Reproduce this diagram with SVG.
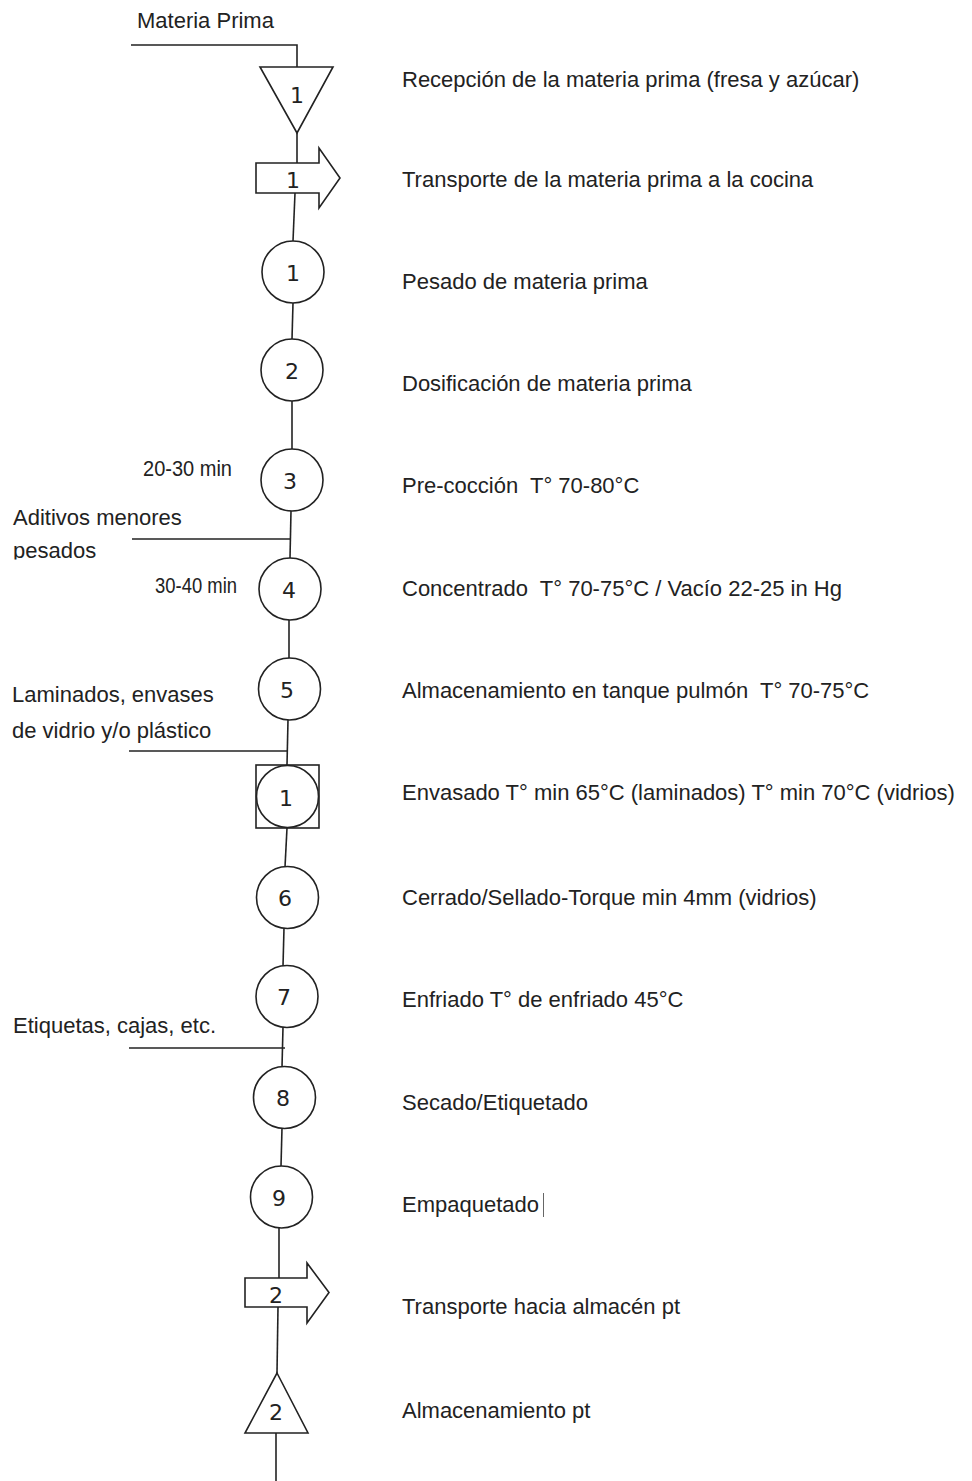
<svg xmlns="http://www.w3.org/2000/svg" width="972" height="1481" viewBox="0 0 972 1481">
<style>
.s{fill:#fff;stroke:#222;stroke-width:1.6}
.c{fill:none;stroke:#222;stroke-width:1.6}
.n{font-family:"DejaVu Sans","Liberation Sans",sans-serif;font-size:22px;fill:#222;text-anchor:middle}
.t{font-family:"Liberation Sans",Arial,sans-serif;font-size:22px;fill:#222}
.l{font-family:"Liberation Sans",Arial,sans-serif;font-size:22px;fill:#222}
</style>
<defs>
<clipPath id="clipPes"><rect x="0" y="530" width="200" height="29.5"/></clipPath>
</defs>
<rect width="972" height="1481" fill="#fff"/>
<g id="connectors">
<path class="c" d="M131,45 H297 V67"/>
<path class="c" d="M297,133 V163"/>
<path class="c" d="M295,193 L293,241"/>
<path class="c" d="M293,303 L292,339"/>
<path class="c" d="M292,401 L292,449"/>
<path class="c" d="M291,511 L290,558"/>
<path class="c" d="M132,539 H290"/>
<path class="c" d="M289,620 L289,658"/>
<path class="c" d="M288,720 L287,765"/>
<path class="c" d="M129,751 H288"/>
<path class="c" d="M287,828 L285,867"/>
<path class="c" d="M284,928 L283,966"/>
<path class="c" d="M283,1027 L282,1067"/>
<path class="c" d="M129,1048 H285"/>
<path class="c" d="M282,1128 L281,1166"/>
<path class="c" d="M279,1228 L279,1278"/>
<path class="c" d="M278,1307 L277,1373"/>
<path class="c" d="M276,1433 V1481"/>
</g>
<g id="left-labels">
<text class="l" x="137" y="28" font-size="20">Materia Prima</text>
<text class="l" x="143" y="476" font-size="21" textLength="89" lengthAdjust="spacingAndGlyphs">20-30 min</text>
<text class="l" x="13" y="525">Aditivos menores</text>
<text class="l" x="13" y="558" clip-path="url(#clipPes)">pesados</text>
<text class="l" x="155" y="593" font-size="21" textLength="82" lengthAdjust="spacingAndGlyphs">30-40 min</text>
<text class="l" x="12" y="702">Laminados, envases</text>
<text class="l" x="12" y="738">de vidrio y/o plástico</text>
<text class="l" x="13" y="1033">Etiquetas, cajas, etc.</text>
</g>
<g id="n-tri1">
<polygon class="s" points="260,67 333,67 297,133"/>
<text class="n" x="297" y="103">1</text>
<text class="t" x="402" y="87">Recepción de la materia prima (fresa y azúcar)</text>
</g>
<g id="n-arrow1">
<polygon class="s" points="256,163 319,163 319,148 340,178 319,208 319,193 256,193"/>
<text class="n" x="293" y="188">1</text>
<text class="t" x="402" y="187">Transporte de la materia prima a la cocina</text>
</g>
<g id="n-op1">
<circle class="s" cx="293" cy="272" r="31"/>
<text class="n" x="293" y="281">1</text>
<text class="t" x="402" y="289">Pesado de materia prima</text>
</g>
<g id="n-op2">
<circle class="s" cx="292" cy="370" r="31"/>
<text class="n" x="292" y="379">2</text>
<text class="t" x="402" y="391">Dosificación de materia prima</text>
</g>
<g id="n-op3">
<circle class="s" cx="292" cy="480" r="31"/>
<text class="n" x="290" y="489">3</text>
<text class="t" x="402" y="493" xml:space="preserve">Pre-cocción  T° 70-80°C</text>
</g>
<g id="n-op4">
<circle class="s" cx="290" cy="589" r="31"/>
<text class="n" x="289" y="598">4</text>
<text class="t" x="402" y="596" xml:space="preserve">Concentrado  T° 70-75°C / Vacío 22-25 in Hg</text>
</g>
<g id="n-op5">
<circle class="s" cx="289.5" cy="689" r="31"/>
<text class="n" x="287" y="698">5</text>
<text class="t" x="402" y="698" xml:space="preserve">Almacenamiento en tanque pulmón  T° 70-75°C</text>
</g>
<g id="n-comb1">
<rect class="s" x="256" y="765" width="63" height="63"/>
<circle class="s" cx="287.5" cy="796.5" r="31"/>
<text class="n" x="286" y="806">1</text>
<text class="t" x="402" y="800">Envasado T° min 65°C (laminados) T° min 70°C (vidrios)</text>
</g>
<g id="n-op6">
<circle class="s" cx="287.5" cy="897.5" r="31"/>
<text class="n" x="285" y="906">6</text>
<text class="t" x="402" y="905">Cerrado/Sellado-Torque min 4mm (vidrios)</text>
</g>
<g id="n-op7">
<circle class="s" cx="287" cy="996.5" r="31"/>
<text class="n" x="284" y="1005">7</text>
<text class="t" x="402" y="1007">Enfriado T° de enfriado 45°C</text>
</g>
<g id="n-op8">
<circle class="s" cx="284.5" cy="1097.5" r="31"/>
<text class="n" x="283" y="1106">8</text>
<text class="t" x="402" y="1110">Secado/Etiquetado</text>
</g>
<g id="n-op9">
<circle class="s" cx="281.5" cy="1197" r="31"/>
<text class="n" x="279" y="1206">9</text>
<text class="t" x="402" y="1212">Empaquetado</text>
<line x1="543.5" y1="1193" x2="543.5" y2="1217" stroke="#666" stroke-width="1"/>
</g>
<g id="n-arrow2">
<polygon class="s" points="245,1278 307,1278 307,1263 329,1292.5 307,1323 307,1307 245,1307"/>
<text class="n" x="276" y="1303">2</text>
<text class="t" x="402" y="1314">Transporte hacia almacén pt</text>
</g>
<g id="n-tri2">
<polygon class="s" points="277,1373 308,1433 245,1433"/>
<text class="n" x="276" y="1420">2</text>
<text class="t" x="402" y="1418">Almacenamiento pt</text>
</g>
</svg>
